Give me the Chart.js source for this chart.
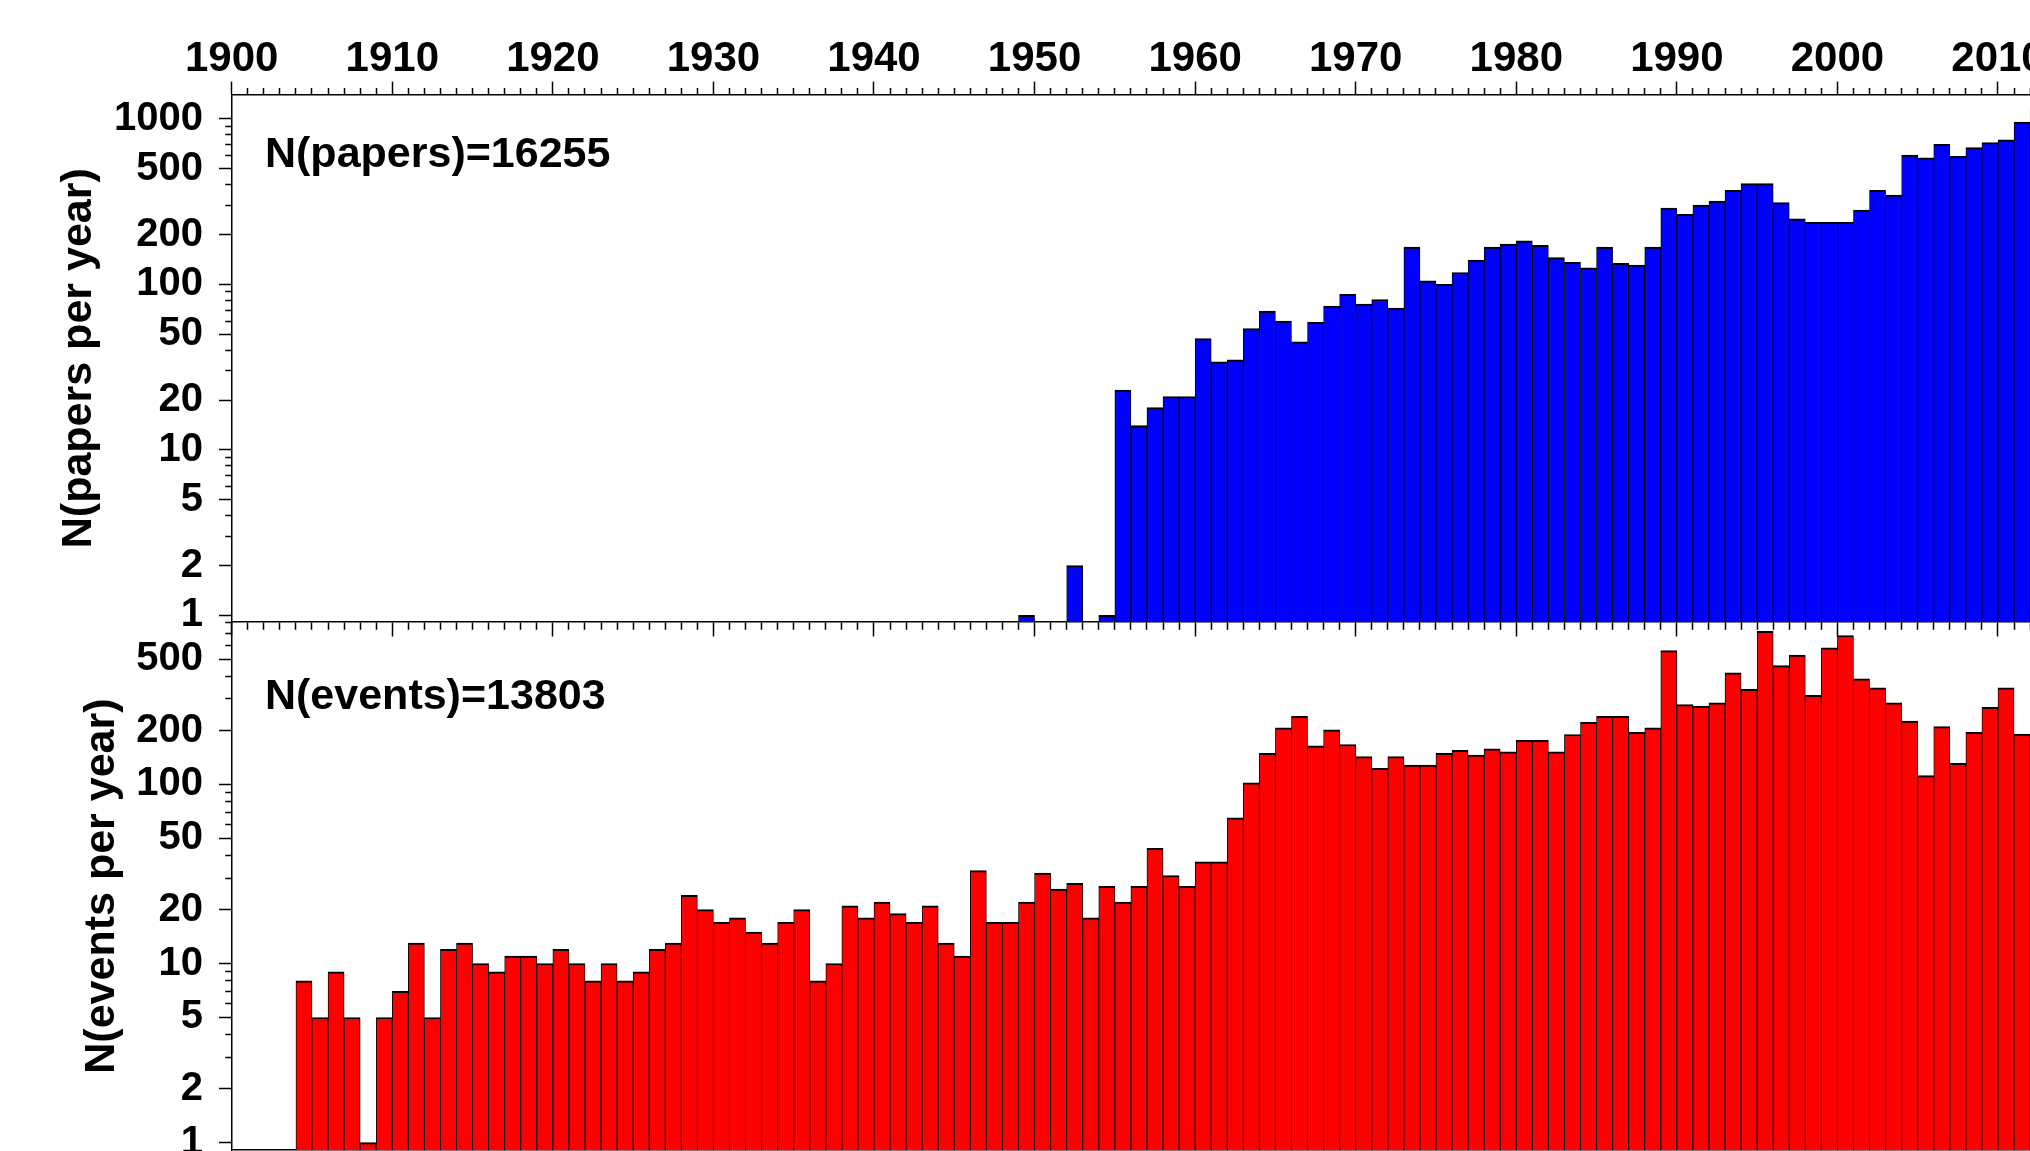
<!DOCTYPE html>
<html>
<head>
<meta charset="utf-8">
<title>Papers and events per year</title>
<script src="https://cdn.jsdelivr.net/npm/chart.js@4.4.1/dist/chart.umd.min.js"></script>
<style>
  html, body { margin: 0; padding: 0; background: #fff; overflow: hidden; }
  #wrap { width: 2030px; height: 1151px; overflow: hidden; position: relative; }
  canvas { display: block; }
</style>
</head>
<body>
<div id="wrap"><canvas id="histChart" width="2200" height="1200"></canvas></div>
<script>
// one bin per year
const years = [
  1900, 1901, 1902, 1903, 1904, 1905, 1906, 1907, 1908, 1909,
  1910, 1911, 1912, 1913, 1914, 1915, 1916, 1917, 1918, 1919,
  1920, 1921, 1922, 1923, 1924, 1925, 1926, 1927, 1928, 1929,
  1930, 1931, 1932, 1933, 1934, 1935, 1936, 1937, 1938, 1939,
  1940, 1941, 1942, 1943, 1944, 1945, 1946, 1947, 1948, 1949,
  1950, 1951, 1952, 1953, 1954, 1955, 1956, 1957, 1958, 1959,
  1960, 1961, 1962, 1963, 1964, 1965, 1966, 1967, 1968, 1969,
  1970, 1971, 1972, 1973, 1974, 1975, 1976, 1977, 1978, 1979,
  1980, 1981, 1982, 1983, 1984, 1985, 1986, 1987, 1988, 1989,
  1990, 1991, 1992, 1993, 1994, 1995, 1996, 1997, 1998, 1999,
  2000, 2001, 2002, 2003, 2004, 2005, 2006, 2007, 2008, 2009,
  2010, 2011, 2012
];

const papersPerYear = [
  null, null, null, null, null, null, null, null, null, null,
  null, null, null, null, null, null, null, null, null, null,
  null, null, null, null, null, null, null, null, null, null,
  null, null, null, null, null, null, null, null, null, null,
  null, null, null, null, null, null, null, null, null, 1,
  null, null, 2, null, 1, 23, 14, 18, 21, 21,
  47, 34, 35, 54, 69, 60, 45, 59, 74, 87,
  76, 81, 72, 168, 105, 100, 118, 140, 168, 175,
  183, 172, 145, 136, 126, 168, 134, 131, 168, 289,
  265, 301, 319, 370, 406, 406, 312, 249, 237, 237,
  237, 281, 370, 347, 605, 581, 703, 595, 670, 718,
  746, 955, 1160
];

const eventsPerYear = [
  null, null, null, null, 8, 5, 9, 5, 1, 5,
  7, 13, 5, 12, 13, 10, 9, 11, 11, 10,
  12, 10, 8, 10, 8, 9, 12, 13, 24, 20,
  17, 18, 15, 13, 17, 20, 8, 10, 21, 18,
  22, 19, 17, 21, 13, 11, 33, 17, 17, 22,
  32, 26, 28, 18, 27, 22, 27, 44, 31, 27,
  37, 37, 65, 102, 149, 207, 240, 164, 202, 167,
  143, 123, 143, 128, 128, 149, 155, 146, 158, 152,
  176, 176, 152, 190, 222, 240, 240, 195, 207, 558,
  279, 274, 285, 419, 339, 716, 460, 528, 314, 578,
  678, 388, 346, 285, 226, 112, 210, 131, 195, 269,
  346, 191, null
];

const totalPapers = 16255;
const totalEvents = 13803;

const yearLabels = [1900, 1910, 1920, 1930, 1940, 1950, 1960, 1970, 1980, 1990, 2000, 2010, 2020];

const papersTicks = [1, 2, 3, 4, 5, 6, 7, 8, 9, 10, 20, 30, 40, 50, 60, 70, 80, 90,
  100, 200, 300, 400, 500, 600, 700, 800, 900, 1000];
const papersTickLabels = [1, 2, 5, 10, 20, 50, 100, 200, 500, 1000];

const eventsTicks = [1, 2, 3, 4, 5, 6, 7, 8, 9, 10, 20, 30, 40, 50, 60, 70, 80, 90,
  100, 200, 300, 400, 500, 600, 700, 800];
const eventsTickLabels = [1, 2, 5, 10, 20, 50, 100, 200, 500];

const fontFamily = "'Liberation Sans', Arial, Helvetica, sans-serif";
Chart.defaults.font.family = fontFamily;
Chart.defaults.color = '#000';

// bars sit in the middle of their year bin
const toBars = (values) => years
  .map((yr, i) => ({ x: yr + 0.5, y: values[i] }))
  .filter(p => p.y !== null);

// long tick for labelled values, short one (dash) for the rest
const outerDash = (labels) => (c) => (c.tick && labels.includes(c.tick.value)) ? [] : [0, 6.3, 30, 0];
const innerDash = (labels) => (c) => (c.tick && labels.includes(c.tick.value)) ? [] : [7.3, 30];

const barStyle = {
  grouped: false,
  barPercentage: 1,
  categoryPercentage: 1,
  borderColor: '#000',
  borderWidth: { top: 2, left: 0.9, right: 0.9, bottom: 0 },
  borderSkipped: 'start'
};

const countLabels = {
  id: 'countLabels',
  afterDatasetsDraw(chart) {
    const { ctx } = chart;
    const top = chart.scales.yTop;
    const bot = chart.scales.yBot;
    ctx.save();
    ctx.fillStyle = '#000';
    ctx.font = 'bold 43px ' + fontFamily;
    ctx.textAlign = 'left';
    ctx.textBaseline = 'alphabetic';
    ctx.fillText('N(papers)=' + totalPapers, top.right + 33.3, top.top + 72.7);
    ctx.fillText('N(events)=' + totalEvents, bot.right + 33.3, bot.top + 86.7);
    ctx.restore();
  }
};

const yAxis = (ticksList, labels, title, titlePad, max, weight) => ({
  type: 'logarithmic',
  axis: 'y',
  position: 'left',
  stack: 'panels',
  stackWeight: 1,
  weight: weight,
  min: 0.91,
  max: max,
  afterBuildTicks: s => { s.ticks = ticksList.map(v => ({ value: v })); },
  afterFit: s => { s.width = 231.7; },
  ticks: {
    autoSkip: false,
    padding: 16,
    color: '#000',
    font: { size: 40, weight: 'bold' },
    callback: v => labels.includes(v) ? String(v) : ''
  },
  grid: {
    drawOnChartArea: false,
    tickLength: 12.7,
    tickWidth: 1.5,
    tickColor: '#000',
    tickBorderDash: outerDash(labels)
  },
  border: { display: true, color: '#000', width: 1.5 },
  title: {
    display: true,
    text: title,
    color: '#000',
    font: { size: 43, weight: 'bold', lineHeight: 1.2 },
    padding: { top: titlePad, bottom: 0 }
  }
});

new Chart(document.getElementById('histChart'), {
  type: 'bar',
  data: {
    datasets: [
      Object.assign({
        label: 'N(papers per year)',
        data: toBars(papersPerYear),
        xAxisID: 'x',
        yAxisID: 'yTop',
        backgroundColor: '#0000ff'
      }, barStyle),
      Object.assign({
        label: 'N(events per year)',
        data: toBars(eventsPerYear),
        xAxisID: 'x',
        yAxisID: 'yBot',
        backgroundColor: '#ff0000'
      }, barStyle)
    ]
  },
  options: {
    responsive: false,
    animation: false,
    devicePixelRatio: 1,
    layout: { padding: { left: 0, right: 57.5, top: 0, bottom: 0 } },
    plugins: {
      legend: { display: false },
      tooltip: { enabled: false }
    },
    scales: {
      x: {
        type: 'linear',
        axis: 'x',
        position: 'top',
        min: 1900,
        max: 2019,
        offset: false,
        afterFit: s => { s.height = 94.3; },
        ticks: {
          stepSize: 1,
          autoSkip: false,
          minRotation: 0,
          maxRotation: 0,
          padding: 1,
          color: '#000',
          font: { size: 42, weight: 'bold', lineHeight: 1 },
          callback: v => yearLabels.includes(v) ? String(v) : ''
        },
        grid: {
          offset: false,
          drawOnChartArea: false,
          tickLength: 12.7,
          tickWidth: 1.5,
          tickColor: '#000',
          tickBorderDash: outerDash(yearLabels)
        },
        border: { display: true, color: '#000', width: 1.5 }
      },
      xMid: {
        type: 'linear',
        axis: 'x',
        position: { yTop: 0.91 },
        min: 1900,
        max: 2019,
        offset: false,
        z: 1,
        afterFit: s => { s.height = 0; },
        ticks: { display: false, stepSize: 1, autoSkip: false },
        grid: {
          offset: false,
          drawOnChartArea: false,
          tickLength: 14,
          tickWidth: 1.5,
          tickColor: '#000',
          tickBorderDash: innerDash(yearLabels)
        },
        border: { display: true, color: '#000', width: 1.5 }
      },
      xBot: {
        type: 'linear',
        axis: 'x',
        position: 'bottom',
        min: 1900,
        max: 2019,
        offset: false,
        z: 1,
        afterFit: s => { s.height = 50; },
        ticks: { display: false, stepSize: 1, autoSkip: false },
        grid: { offset: false, drawOnChartArea: false, drawTicks: false },
        border: { display: true, color: '#000', width: 1.5 }
      },
      yTop: yAxis(papersTicks, papersTickLabels, 'N(papers per year)', 53.2, 1408, 1),
      yBot: yAxis(eventsTicks, eventsTickLabels, 'N(events per year)', 76.2, 805, 0)
    }
  },
  plugins: [countLabels]
});
</script>
</body>
</html>
